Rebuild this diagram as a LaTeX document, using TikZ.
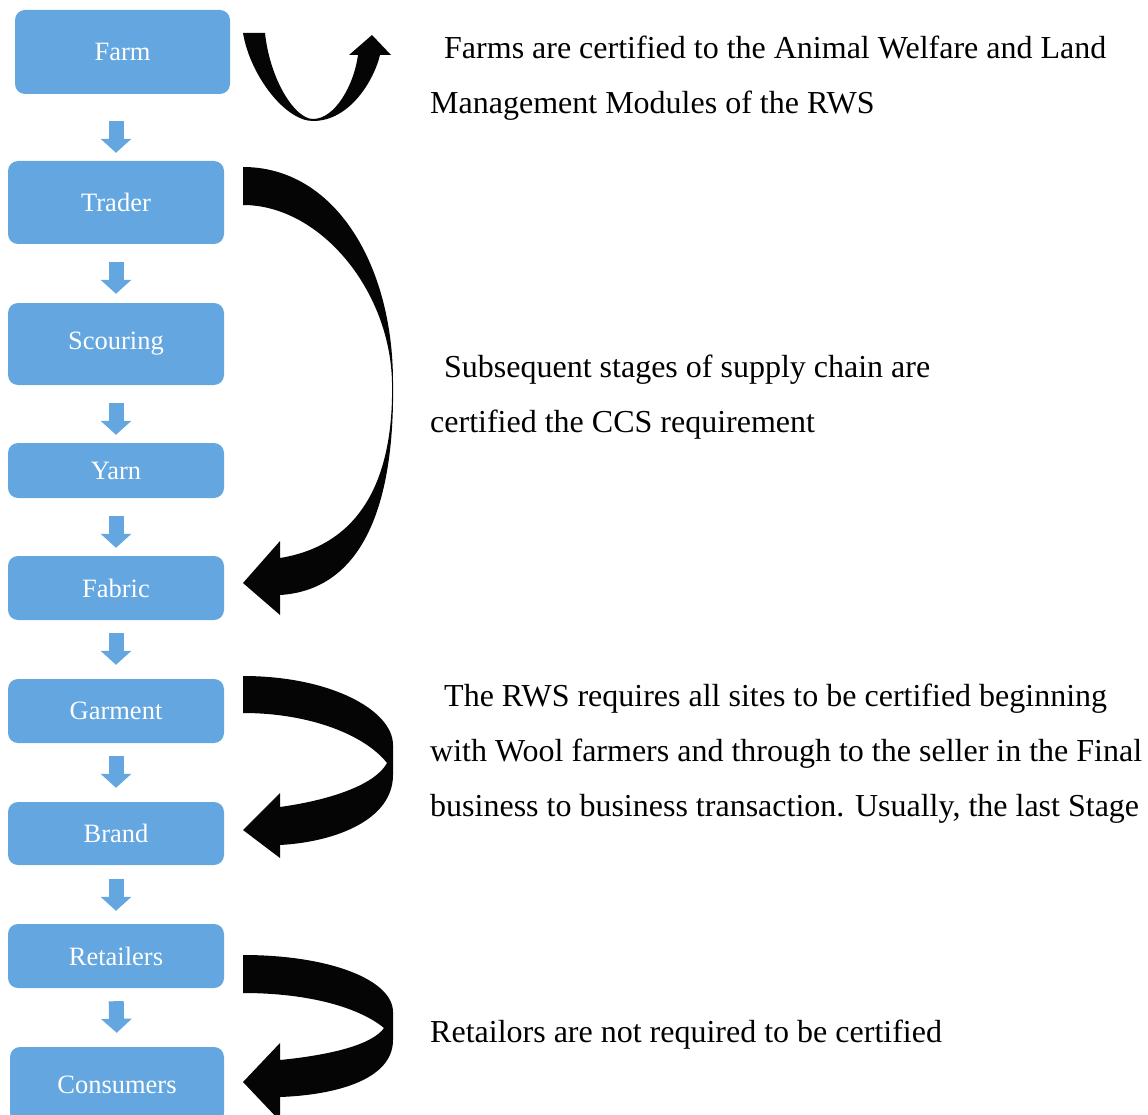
\documentclass[tikz,border=0pt]{standalone}
\usepackage{fontspec}
\setmainfont{Liberation Serif}
\usetikzlibrary{arrows.meta,positioning}
\definecolor{stageblue}{RGB}{99,166,224}
\definecolor{curlblack}{RGB}{5,5,5}

\begin{document}
\begin{tikzpicture}[x=1pt,y=-1pt,
stage/.style ={rectangle, rounded corners=10pt, fill=stageblue, text=white,
inner sep=0pt, minimum width=216pt, font=\fontsize{26.5}{30}\selectfont},
flow/.style ={draw=stageblue, line width=15pt, -{Triangle[width=30pt,length=14pt]}},
curl/.style ={fill=curlblack},
note/.style ={anchor=base west, inner sep=0pt, align=left,
font=\fontsize{32}{55}\selectfont}]

\useasboundingbox (0,0) rectangle (1148,1115);

\node[stage, minimum width=215pt, minimum height=84pt] (farm) at (122.5,52) {Farm};
\node[stage, minimum height=83pt] (trader) at (116,202.5) {Trader};
\node[stage, minimum height=82pt] (scouring) at (116,344) {Scouring};
\node[stage, minimum height=55pt] (yarn) at (116,470.5) {Yarn};
\node[stage, minimum height=64pt] (fabric) at (116,588) {Fabric};
\node[stage, minimum height=64pt] (garment) at (116,711) {Garment};
\node[stage, minimum height=63pt] (brand) at (116,833.5) {Brand};
\node[stage, minimum height=64pt] (retailers) at (116,956) {Retailers};
\node[stage, minimum width=214pt, minimum height=76pt] (consumers) at (117,1085) {Consumers};

\draw[flow, shorten <=27pt, shorten >=8pt] (farm.south -| trader.north) -- (trader.north);
\draw[flow, shorten <=18pt, shorten >=9pt] (trader) -- (scouring);
\draw[flow, shorten <=18pt, shorten >=8pt] (scouring.south) -- (yarn.north);
\draw[flow, shorten <=18pt, shorten >=8pt] (yarn.south) -- (fabric.north);
\draw[flow, shorten <=13pt, shorten >=14pt] (fabric.south) -- (garment.north);
\draw[flow, shorten <=13pt, shorten >=14pt] (garment.south) -- (brand.north);
\draw[flow, shorten <=14pt, shorten >=13pt] (brand.south) -- (retailers.north);
\draw[flow, shorten <=13pt, shorten >=14pt] (retailers.south) -- (consumers.north);

% curved block arrows
\fill[curl] (243,33) .. controls (250,75) and (285,121) .. (313,121)
  .. controls (350,121) and (374,80) .. (380,55) -- (391,55) -- (372,35) -- (349,55) -- (358,55)
  .. controls (354,85) and (335,119) .. (313,119)
  .. controls (295,119) and (270,80) .. (265,33) -- cycle;

\fill[curl] (243,167) .. controls (335,167) and (393,265) .. (393,382)
  .. controls (395,510) and (360,590) .. (280,595) -- (280,615) -- (243,583) -- (280,541) -- (280,558)
  .. controls (360,545) and (394,480) .. (392,382)
  .. controls (390,290) and (320,205) .. (243,205) -- cycle;

\fill[curl] (243,676) .. controls (330,676) and (393,710) .. (393,745) -- (393,775)
  .. controls (393,820) and (335,842) .. (280,845) -- (280,858) -- (243,830) -- (280,793) -- (280,807)
  .. controls (330,800) and (375,785) .. (387,763)
  .. controls (365,735) and (310,713) .. (243,713) -- cycle;

\fill[curl] (243,955) .. controls (330,955) and (393,980) .. (393,1012) -- (393,1040)
  .. controls (393,1080) and (335,1095) .. (280,1097) -- (280,1121) -- (243,1082) -- (280,1043) -- (280,1060)
  .. controls (330,1055) and (372,1045) .. (384,1028)
  .. controls (360,1008) and (310,993) .. (243,993) -- cycle;

\node[note] (rwsfarm) at (430,114) {\hspace*{14pt}Farms are certified to the Animal Welfare and Land\\Management Modules of the RWS};
\node[note] (ccs) at (430,432) {\hspace*{14pt}Subsequent stages of supply chain are\\certified the CCS requirement};
\node[note] (allsites) at (430,816) {\hspace*{14pt}The RWS requires all sites to be certified beginning\\with Wool farmers and through to the seller in the Final\\business to business transaction. Usually, the last Stage};
\node[note] (retail) at (430,1042) {Retailors are not required to be certified};
\end{tikzpicture}
\end{document}
